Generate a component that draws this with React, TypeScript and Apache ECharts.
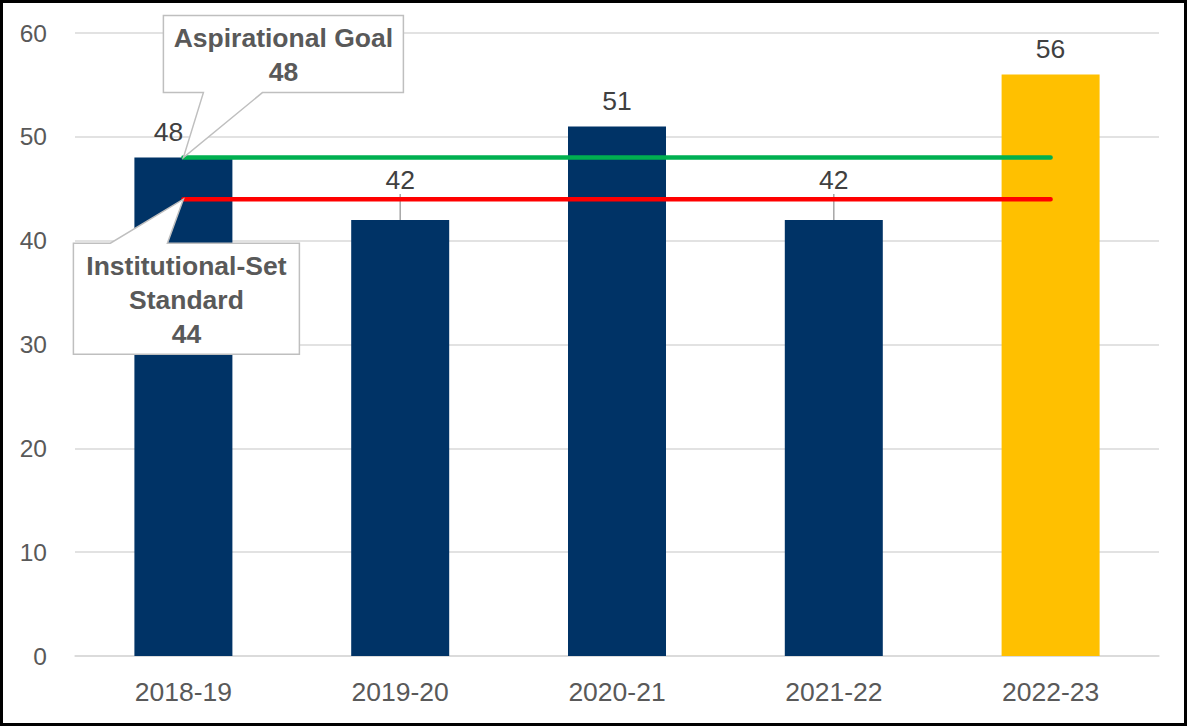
import React, { useEffect, useRef } from "react";
import * as echarts from "echarts";

const categories = ["2018-19", "2019-20", "2020-21", "2021-22", "2022-23"];
const values = [48, 42, 51, 42, 56];
const barColors = ["#003366", "#003366", "#003366", "#003366", "#FFC000"];
const aspirationalGoal = [48, 48, 48, 48, 48];
const institutionalStandard = [44, 44, 44, 44, 44];
const calloutTitles = ["Aspirational Goal", "Institutional-Set\nStandard"];
const calloutValues = [48, 44];
const yMin = 0;
const yMax = 60;
const yInterval = 10;
const shiftedLabels = [1, 3];

const FONT = "'Liberation Sans', Arial, sans-serif";

export default function App() {
  const ref = useRef<HTMLDivElement>(null);
  useEffect(() => {
    if (!ref.current) return;
    const chart = echarts.init(ref.current, undefined, { renderer: "svg" });
    const calloutGeom = [
      // offsets relative to tip
      { l: -20, r: 220, t: -142, b: -65, w1: 20, w2: 79, side: "bottom" },
      { l: -110, r: 116, t: 44, b: 155, w1: -73, w2: -16, side: "top" },
    ];
    chart.setOption({
      animation: false,
      grid: { left: 75, right: 28, top: 33, bottom: 70, containLabel: false },
      xAxis: {
        type: "category",
        data: categories,
        axisTick: { show: false },
        axisLine: { lineStyle: { color: "#D9D9D9", width: 1.5 } },
        axisLabel: { color: "#595959", fontSize: 26.5, fontFamily: FONT, margin: 22 },
      },
      yAxis: {
        type: "value",
        min: yMin,
        max: yMax,
        interval: yInterval,
        axisLine: { show: false },
        axisTick: { show: false },
        splitLine: { lineStyle: { color: "#D9D9D9", width: 1.5 } },
        axisLabel: { color: "#595959", fontSize: 24.5, fontFamily: FONT, margin: 28 },
      },
      series: [
        {
          type: "bar",
          barWidth: 98,
          data: values.map((v, i) => ({
            value: v,
            itemStyle: { color: barColors[i] },
            labelLine: shiftedLabels.includes(i)
              ? { show: true, lineStyle: { color: "#A6A6A6", width: 1.5 } }
              : { show: false },
          })),
          label: {
            show: true,
            position: "top",
            distance: 12,
            color: "#404040",
            fontSize: 26.5,
            fontFamily: FONT,
          },
          labelLayout: (params: any) => {
            if (shiftedLabels.includes(params.dataIndex)) return { dy: -14 };
            if (params.dataIndex === 0) return { dx: -15 };
            return {};
          },
          z: 2,
        },
        {
          type: "line",
          data: aspirationalGoal,
          symbol: "none",
          lineStyle: { color: "#00B050", width: 4.5, cap: "round" },
          z: 3,
        },
        {
          type: "line",
          data: institutionalStandard,
          symbol: "none",
          lineStyle: { color: "#FF0000", width: 4.5, cap: "round" },
          z: 3,
        },
        {
          type: "custom",
          clip: false,
          z: 10,
          data: calloutValues.map((v, i) => [0, v, i]),
          renderItem: (params: any, api: any) => {
            const idx = params.dataIndex;
            const tip = api.coord([api.value(0), api.value(1)]);
            const g = calloutGeom[idx];
            const L = tip[0] + g.l;
            const R = tip[0] + g.r;
            const T = tip[1] + g.t;
            const B = tip[1] + g.b;
            const w1 = tip[0] + g.w1;
            const w2 = tip[0] + g.w2;
            let points: number[][];
            if (g.side === "bottom") {
              points = [[L, T], [R, T], [R, B], [w2, B], [tip[0], tip[1]], [w1, B], [L, B]];
            } else {
              points = [[L, T], [w1, T], [tip[0], tip[1]], [w2, T], [R, T], [R, B], [L, B]];
            }
            const text = calloutTitles[idx] + "\n" + calloutValues[idx];
            return {
              type: "group",
              children: [
                {
                  type: "polygon",
                  shape: { points },
                  style: { fill: "#FFFFFF", stroke: "#BFBFBF", lineWidth: 1.5 },
                },
                {
                  type: "text",
                  x: (L + R) / 2,
                  y: (T + B) / 2 + 1,
                  style: {
                    text,
                    align: "center",
                    verticalAlign: "middle",
                    fontSize: 26.5,
                    fontWeight: "bold",
                    fontFamily: FONT,
                    lineHeight: 34,
                    fill: "#595959",
                  },
                },
              ],
            };
          },
        },
      ],
    });
    return () => chart.dispose();
  }, []);
  return (
    <div style={{ position: "fixed", left: 0, top: 0, width: 1187, height: 726, background: "#fff" }}>
      <div ref={ref} style={{ width: 1187, height: 726 }} />
      <div
        style={{
          position: "absolute",
          left: 0,
          top: 0,
          width: 1187,
          height: 726,
          boxSizing: "border-box",
          border: "3px solid #000",
          pointerEvents: "none",
        }}
      />
    </div>
  );
}
